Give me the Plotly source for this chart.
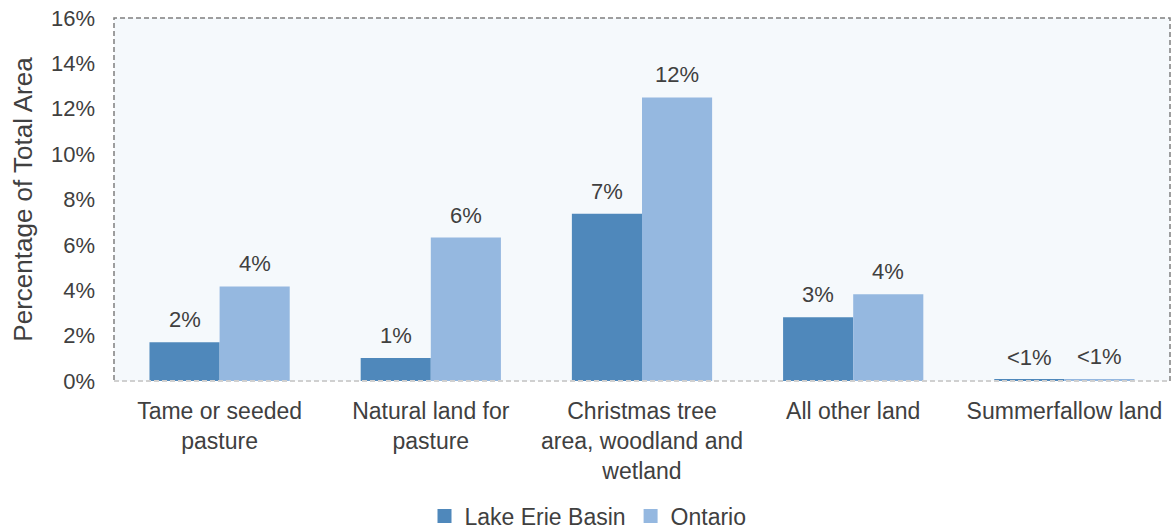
import plotly.graph_objects as go

categories = [
    "Tame or seeded<br>pasture",
    "Natural land for<br>pasture",
    "Christmas tree<br>area, woodland and<br>wetland",
    "All other land",
    "Summerfallow land",
]
lake_erie_basin = [1.71, 1.01, 7.37, 2.81, 0.05]
ontario = [4.17, 6.32, 12.5, 3.82, 0.08]
lake_erie_labels = ["2%", "1%", "7%", "3%", "<1%"]
ontario_labels = ["4%", "6%", "12%", "4%", "<1%"]
y_ticks = [0, 2, 4, 6, 8, 10, 12, 14, 16]
y_tick_labels = [f"{v}%" for v in y_ticks]

TEXT = "#404040"
FONT = "Liberation Sans, Arial, sans-serif"
series = [
    ("Lake Erie Basin", lake_erie_basin, lake_erie_labels, "#4F88BB"),
    ("Ontario", ontario, ontario_labels, "#95B8E0"),
]

fig = go.Figure()
for name, vals, _, color in series:
    fig.add_trace(go.Bar(
        name=name, x=categories, y=vals, showlegend=False,
        marker_color=color, marker_line_width=0,
    ))
# legend entries with larger square swatches
for name, _, _, color in series:
    fig.add_trace(go.Scatter(
        name=name, x=[None], y=[None], mode="markers",
        marker=dict(symbol="square", size=14, color=color),
    ))

# value labels above each bar
for idx, (_, vals, labels, _) in enumerate(series):
    for i, (v, t) in enumerate(zip(vals, labels)):
        fig.add_annotation(
            x=i + (-0.166 if idx == 0 else 0.166), y=v, xref="x", yref="y",
            text=t, showarrow=False, yanchor="bottom", yshift=8,
            font=dict(size=22, color=TEXT, family=FONT),
        )

# dashed plot-area frame and light baseline
fig.add_shape(type="rect", xref="paper", yref="paper", x0=0, y0=0, x1=1, y1=1,
              line=dict(color="#7F7F7F", width=1.5, dash="5px,3px"), layer="above")
fig.add_shape(type="line", xref="paper", yref="paper", x0=0, y0=0, x1=1, y1=0,
              line=dict(color="#D0D0D0", width=2, dash="5px,3px"), layer="above")

fig.update_layout(
    width=1176, height=531,
    margin=dict(l=114, r=6, t=16, b=150),
    paper_bgcolor="white", plot_bgcolor="#F5F9FC",
    barmode="group", bargap=0.336, bargroupgap=0,
    font=dict(family=FONT, size=23, color=TEXT),
    showlegend=True,
    legend=dict(orientation="h", x=0.5, xanchor="center", xref="container",
                y=0.028, yanchor="middle", yref="container",
                font=dict(size=23, color=TEXT), itemwidth=30, traceorder="normal"),
    xaxis=dict(showgrid=False, showline=False, zeroline=False,
               tickfont=dict(size=23, color=TEXT), ticks="", ticklabelstandoff=14),
    yaxis=dict(range=[0, 16], tickvals=y_ticks, ticktext=y_tick_labels,
               showgrid=False, showline=False, zeroline=False,
               tickfont=dict(size=22, color=TEXT), ticks="", ticklabelstandoff=18,
               title=dict(text="Percentage of Total Area", font=dict(size=26, color=TEXT),
                          standoff=10)),
)

fig.write_html("out.html")
